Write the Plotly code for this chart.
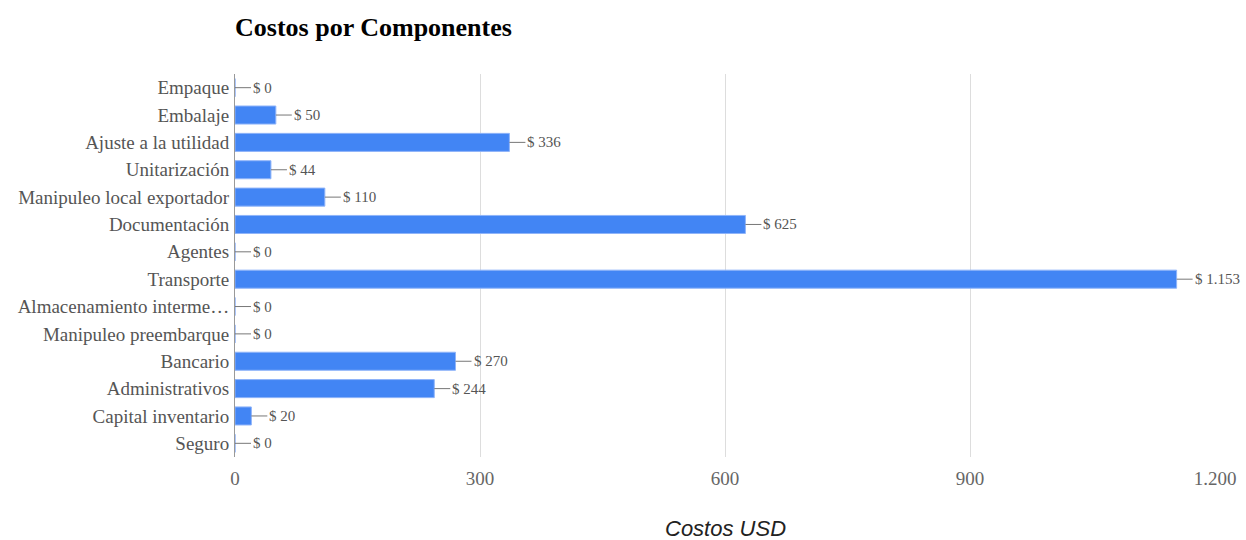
import plotly.graph_objects as go

categorias = [
    "Empaque", "Embalaje", "Ajuste a la utilidad", "Unitarización",
    "Manipuleo local exportador", "Documentación", "Agentes", "Transporte",
    "Almacenamiento interme…", "Manipuleo preembarque", "Bancario",
    "Administrativos", "Capital inventario", "Seguro",
]
costos = [0, 50, 336, 44, 110, 625, 0, 1153, 0, 0, 270, 244, 20, 0]
ticks_x = [0, 300, 600, 900, 1200]
ticks_x_text = ["0", "300", "600", "900", "1.200"]

SERIF = "Liberation Serif"
AZUL = "#4285f4"
W, H = 1246, 540
M_L, M_R, M_T, M_B = 235, 31, 74, 83

fig = go.Figure(go.Bar(
    x=costos, y=categorias, orientation="h",
    marker=dict(color=AZUL, line=dict(color="#8fb4f9", width=1)),
    hoverinfo="x+y",
))

def fmt(v):
    return "$ " + f"{v:,.0f}".replace(",", ".")

# leader line + value label at the end of each bar
for cat, v in zip(categorias, costos):
    fig.add_shape(type="line", xref="x", yref="y", xsizemode="pixel",
                  xanchor=v, x0=0, x1=16, y0=cat, y1=cat,
                  line=dict(color="#777777", width=1))
    fig.add_annotation(x=v, y=cat, xref="x", yref="y", text=fmt(v),
                       showarrow=False, xanchor="left", xshift=16,
                       font=dict(family=SERIF, size=15, color="#555555"))

# x-axis title
fig.add_annotation(x=0.5, y=-(528 - (H - M_B)) / (H - M_T - M_B),
                   xref="paper", yref="paper", text="<i>Costos USD</i>",
                   showarrow=False, xanchor="center", yanchor="middle",
                   font=dict(family="Liberation Sans", size=22, color="#222222"))

fig.update_layout(
    width=W, height=H,
    margin=dict(l=M_L, r=M_R, t=M_T, b=M_B, autoexpand=False),
    paper_bgcolor="white", plot_bgcolor="white",
    bargap=0.34, showlegend=False,
    separators=",.",
    title=dict(text="<b>Costos por Componentes</b>", x=M_L / W, xanchor="left",
               y=1 - 27 / H, yanchor="middle",
               font=dict(family=SERIF, size=26, color="#000000")),
    xaxis=dict(range=[0, 1200], tickvals=ticks_x, ticktext=ticks_x_text,
               showgrid=True, gridcolor="#dddddd", gridwidth=1,
               zeroline=False, showline=False, automargin=False,
               ticks="outside", ticklen=4, tickcolor="rgba(0,0,0,0)",
               tickfont=dict(family=SERIF, size=19, color="#666666")),
    yaxis=dict(categoryorder="array", categoryarray=categorias,
               autorange="reversed", showgrid=False, zeroline=False,
               showline=True, linecolor="#999999", linewidth=1,
               automargin=False,
               ticks="outside", ticklen=1, tickcolor="rgba(0,0,0,0)",
               tickfont=dict(family=SERIF, size=19, color="#555555")),
)

fig.write_html("out.html")
